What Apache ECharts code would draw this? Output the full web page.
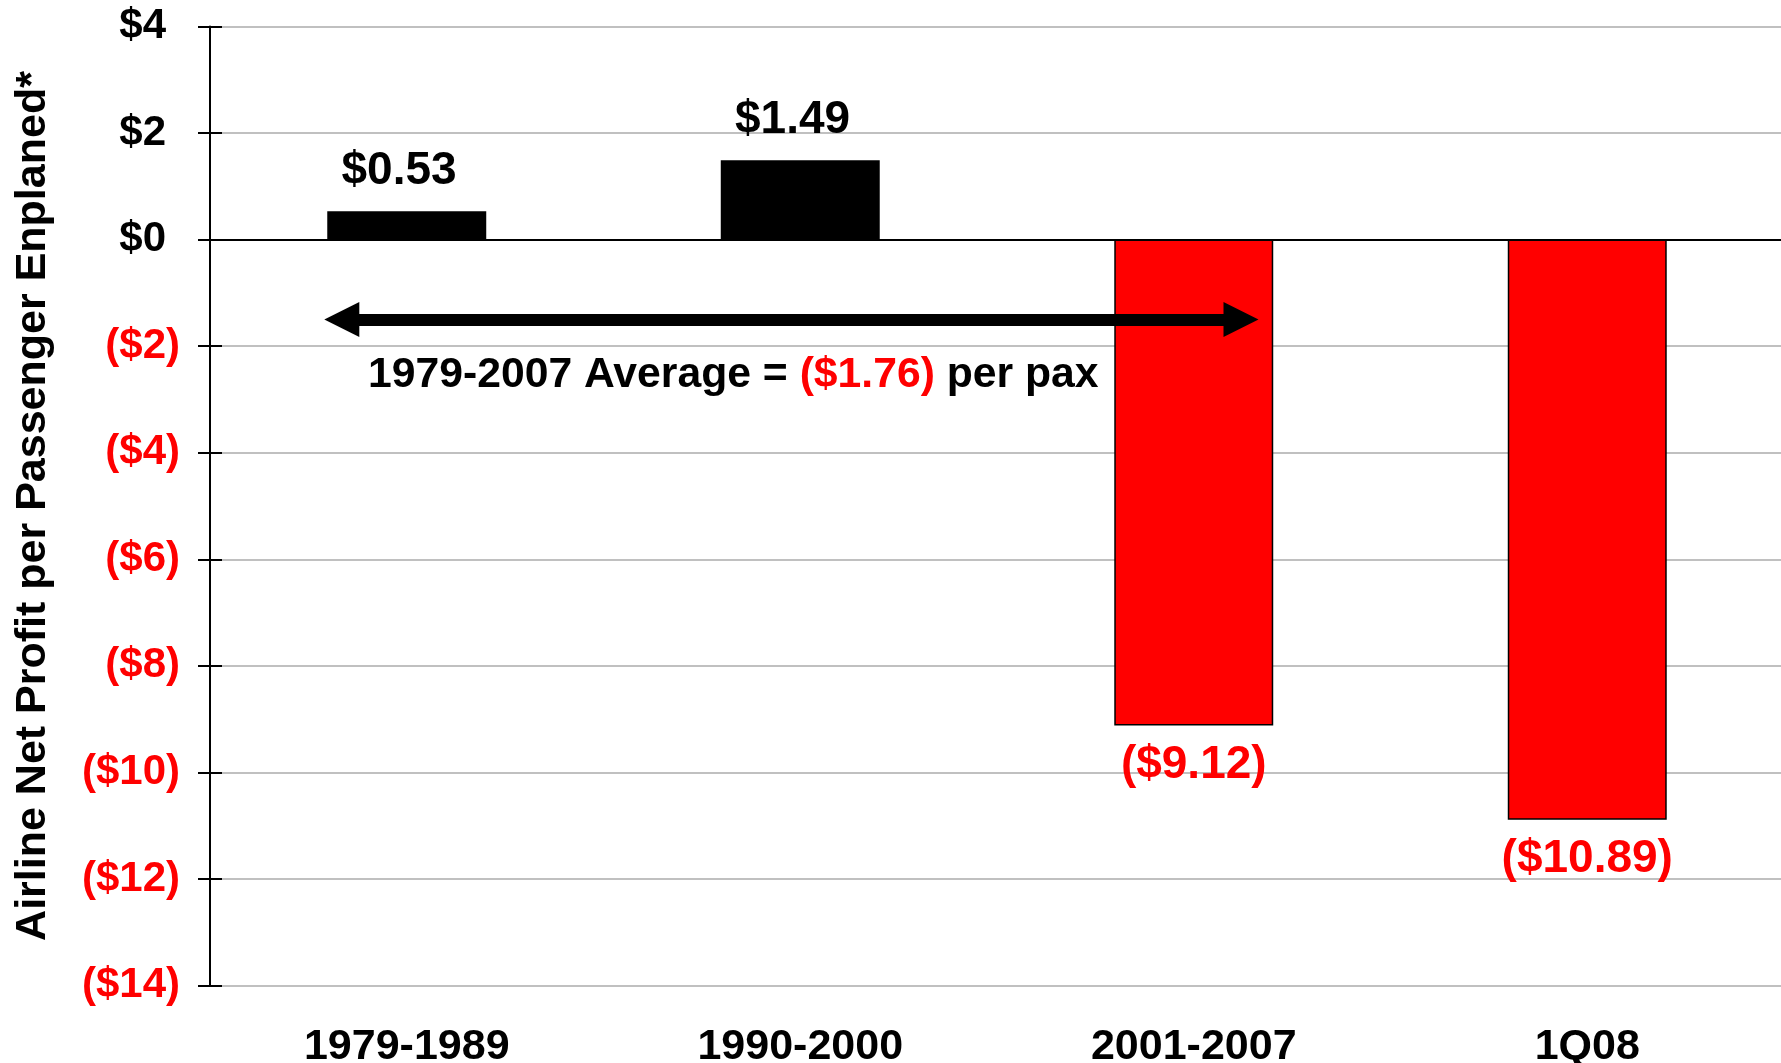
<!DOCTYPE html>
<html>
<head>
<meta charset="utf-8">
<script src="https://cdn.jsdelivr.net/npm/echarts@6/dist/echarts.min.js"></script>
<style>
html,body{margin:0;padding:0;background:#fff;}
#chart{width:1781px;height:1063px;}
</style>
</head>
<body>
<div id="chart"></div>
<script>
var categories = ['1979-1989', '1990-2000', '2001-2007', '1Q08'];
var profitValues = [0.53, 1.49, -9.12, -10.89];
var yMin = -14, yMax = 4, yInterval = 2;
var yAxisTitle = 'Airline Net Profit per Passenger Enplaned*';
var averageValue = -1.76;
var averageLabelParts = ['1979-2007 Average = ', '($1.76)', ' per pax'];
// arrow annotation, in band units along the category axis (0..4) and y value
var arrowY = -1.5;
var arrowFrom = 0.335;
var arrowTo = 2.62;
var avgLabelX = 1.33;
var avgLabelY = -2.54;

var FONT = '"Liberation Sans", Arial, sans-serif';
function money(v, dec) {
  var s = '$' + Math.abs(v).toFixed(dec);
  return v < 0 ? '(' + s + ')' : s;
}
// Excel-like "$#,##0_);($#,##0)" : positives keep an invisible ")" space
function moneyRich(v, dec, neg, pos) {
  if (v < 0) return '{' + neg + '|' + money(v, dec) + '}';
  return '{' + pos + '|' + money(v, dec) + '}{h|)}';
}

var chart = echarts.init(document.getElementById('chart'), null, {renderer: 'canvas'});
var option = {
  backgroundColor: '#ffffff',
  animation: false,
  grid: {left: 210, right: -3, top: 26.5, bottom: 77.5, containLabel: false, outerBoundsMode: 'none'},
  xAxis: [{
    type: 'category',
    data: categories,
    axisLine: {show: false, onZero: false},
    axisTick: {show: false},
    axisLabel: {
      margin: 40,
      fontFamily: FONT, fontWeight: 'bold', fontSize: 43, color: '#000'
    },
    splitLine: {show: false}
  }, {
    type: 'value', min: 0, max: 4, show: false
  }],
  yAxis: [{
    type: 'value',
    min: yMin, max: yMax, interval: yInterval,
    name: yAxisTitle,
    nameLocation: 'middle',
    nameGap: 155,
    nameTextStyle: {fontFamily: FONT, fontWeight: 'bold', fontSize: 43, color: '#000'},
    axisLine: {show: true, lineStyle: {color: '#000', width: 2}},
    axisTick: {show: true, inside: false, length: 12, lineStyle: {color: '#000', width: 2}},
    axisLabel: {
      margin: 30,
      formatter: function (v) { return moneyRich(v, 0, 'n', 'p'); },
      rich: {
        n: {fontFamily: FONT, fontWeight: 'bold', fontSize: 42, color: '#ff0000'},
        p: {fontFamily: FONT, fontWeight: 'bold', fontSize: 42, color: '#000'},
        h: {fontFamily: FONT, fontWeight: 'bold', fontSize: 42, color: 'rgba(0,0,0,0)'}
      }
    },
    splitLine: {show: true, lineStyle: {color: '#c0c0c0', width: 2}}
  }, {
    type: 'value',
    min: yMin, max: yMax, interval: yInterval,
    position: 'left',
    axisLine: {show: false},
    axisTick: {show: true, inside: true, length: 12, lineStyle: {color: '#000', width: 2}},
    axisLabel: {show: false},
    splitLine: {show: false}
  }],
  series: [{
    type: 'bar',
    xAxisIndex: 0,
    yAxisIndex: 0,
    barWidth: '40.4%',
    data: profitValues.map(function (v) {
      return {
        value: v,
        itemStyle: {color: v < 0 ? '#ff0000' : '#000000', borderColor: '#000', borderWidth: 1.5},
        label: {
          show: true,
          position: v < 0 ? 'bottom' : 'top',
          distance: 17,
          formatter: moneyRich(v, 2, 'n', 'p'),
          rich: {
            n: {fontFamily: FONT, fontWeight: 'bold', fontSize: 46, color: '#ff0000'},
            p: {fontFamily: FONT, fontWeight: 'bold', fontSize: 46, color: '#000'},
            h: {fontFamily: FONT, fontWeight: 'bold', fontSize: 46, color: 'rgba(0,0,0,0)'}
          }
        }
      };
    }),
    markLine: {
      silent: true,
      symbol: 'none',
      label: {show: false},
      lineStyle: {color: '#000', width: 2, type: 'solid'},
      data: [{yAxis: 0}]
    },
    z: 3
  }, {
    type: 'line',
    xAxisIndex: 1,
    yAxisIndex: 0,
    data: [],
    markLine: {
      silent: true,
      symbol: ['triangle', 'triangle'],
      symbolSize: 35,
      label: {show: false},
      lineStyle: {color: '#000', width: 12, type: 'solid'},
      itemStyle: {color: '#000'},
      data: [[{coord: [arrowFrom, arrowY]}, {coord: [arrowTo, arrowY]}]]
    },
    markPoint: {
      silent: true,
      symbol: 'circle',
      symbolSize: 0,
      label: {
        show: true,
        position: 'inside',
        formatter: '{b|' + averageLabelParts[0] + '}{r|' + averageLabelParts[1] + '}{b|' + averageLabelParts[2] + '}',
        rich: {
          b: {fontFamily: FONT, fontWeight: 'bold', fontSize: 42.7, color: '#000'},
          r: {fontFamily: FONT, fontWeight: 'bold', fontSize: 42.7, color: '#ff0000'}
        }
      },
      data: [{coord: [avgLabelX, avgLabelY], value: averageValue}]
    },
    z: 5
  }]
};
chart.setOption(option);
</script>
</body>
</html>
